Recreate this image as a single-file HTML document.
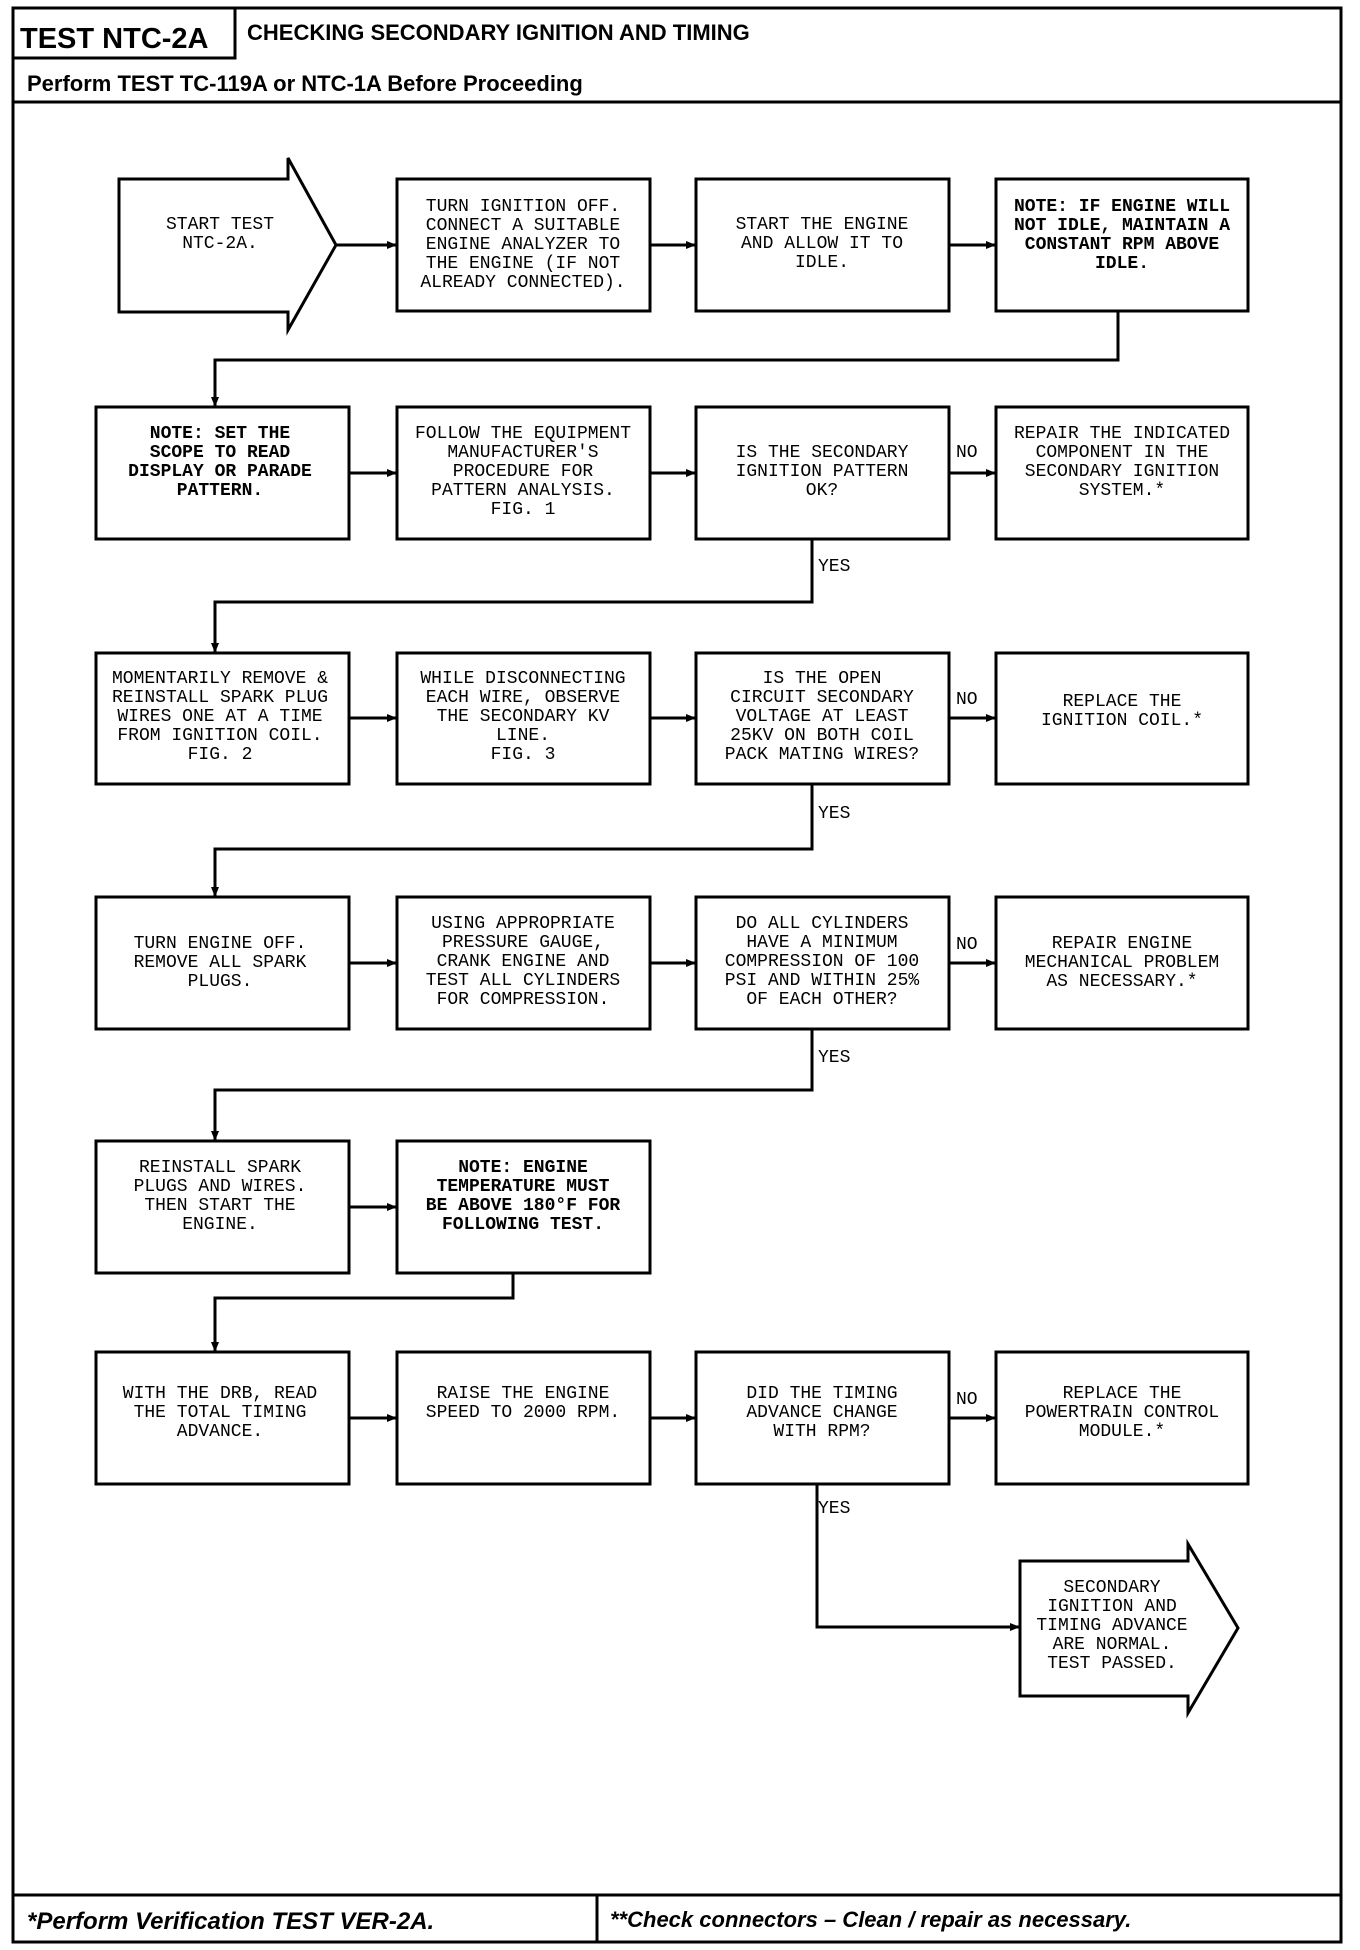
<!DOCTYPE html>
<html><head><meta charset="utf-8"><style>
html,body{margin:0;padding:0;background:#fff;}
svg{display:block;}
.m{font-family:"Liberation Mono","DejaVu Sans Mono",monospace;font-size:18px;fill:#000;}
.h{font-family:"Liberation Sans",sans-serif;font-weight:bold;fill:#000;}
</style></head><body>
<svg width="1360" height="1950" viewBox="0 0 1360 1950" xmlns="http://www.w3.org/2000/svg">
<defs><marker id="a" markerWidth="10" markerHeight="10" refX="9" refY="5" orient="auto" markerUnits="userSpaceOnUse"><path d="M0,1 L10,5 L0,9 z" fill="#000"/></marker></defs>
<g fill="none" stroke="#000" stroke-width="3">
<rect x="13" y="8" width="1328" height="1934"/>
<line x1="13" y1="102" x2="1341" y2="102"/>
<rect x="13" y="8" width="222" height="50"/>
<line x1="235" y1="58" x2="1341" y2="58" stroke-width="0"/>
<line x1="13" y1="1895" x2="1341" y2="1895"/>
<line x1="597" y1="1895" x2="597" y2="1942"/>
<!-- start arrow -->
<path d="M119,179 H288 V158 L336,245 L288,330 V312 H119 Z"/>
<!-- row1 -->
<rect x="397" y="179" width="253" height="132"/>
<rect x="696" y="179" width="253" height="132"/>
<rect x="996" y="179" width="252" height="132"/>
<!-- rows 2-6 -->
<rect x="96" y="407" width="253" height="132"/><rect x="397" y="407" width="253" height="132"/><rect x="696" y="407" width="253" height="132"/><rect x="996" y="407" width="252" height="132"/>
<rect x="96" y="653" width="253" height="131"/><rect x="397" y="653" width="253" height="131"/><rect x="696" y="653" width="253" height="131"/><rect x="996" y="653" width="252" height="131"/>
<rect x="96" y="897" width="253" height="132"/><rect x="397" y="897" width="253" height="132"/><rect x="696" y="897" width="253" height="132"/><rect x="996" y="897" width="252" height="132"/>
<rect x="96" y="1141" width="253" height="132"/><rect x="397" y="1141" width="253" height="132"/>
<rect x="96" y="1352" width="253" height="132"/><rect x="397" y="1352" width="253" height="132"/><rect x="696" y="1352" width="253" height="132"/><rect x="996" y="1352" width="252" height="132"/>
<!-- end arrow -->
<path d="M1020,1561 H1188 V1544 L1238,1628 L1188,1713 V1696 H1020 Z"/>
</g>
<g stroke="#000" stroke-width="3" fill="none" marker-end="url(#a)">
<line x1="336" y1="245" x2="396" y2="245"/>
<line x1="650" y1="245" x2="695" y2="245"/>
<line x1="949" y1="245" x2="995" y2="245"/>
<polyline points="1118,311 1118,360 215,360 215,406"/>
<line x1="349" y1="473" x2="396" y2="473"/><line x1="650" y1="473" x2="695" y2="473"/><line x1="949" y1="473" x2="995" y2="473"/>
<polyline points="812,539 812,602 215,602 215,652"/>
<line x1="349" y1="718" x2="396" y2="718"/><line x1="650" y1="718" x2="695" y2="718"/><line x1="949" y1="718" x2="995" y2="718"/>
<polyline points="812,784 812,849 215,849 215,896"/>
<line x1="349" y1="963" x2="396" y2="963"/><line x1="650" y1="963" x2="695" y2="963"/><line x1="949" y1="963" x2="995" y2="963"/>
<polyline points="812,1029 812,1090 215,1090 215,1140"/>
<line x1="349" y1="1207" x2="396" y2="1207"/>
<polyline points="513,1273 513,1298 215,1298 215,1351"/>
<line x1="349" y1="1418" x2="396" y2="1418"/><line x1="650" y1="1418" x2="695" y2="1418"/><line x1="949" y1="1418" x2="995" y2="1418"/>
<polyline points="817,1484 817,1627 1019,1627"/>
</g>
<text class="h" x="20" y="48" font-size="29">TEST NTC-2A</text>
<text class="h" x="247" y="40" font-size="22">CHECKING SECONDARY IGNITION AND TIMING</text>
<text class="h" x="27" y="91" font-size="22">Perform TEST TC-119A or NTC-1A Before Proceeding</text>
<text class="h" x="27" y="1929" font-size="24" font-style="italic">*Perform Verification TEST VER-2A.</text>
<text class="h" x="610" y="1927" font-size="22" font-style="italic">**Check connectors – Clean / repair as necessary.</text>
<g class="m" text-anchor="middle">
<text x="220" y="229"><tspan x="220">START TEST</tspan><tspan x="220" dy="19">NTC-2A.</tspan></text>
<text x="523" y="211"><tspan x="523">TURN IGNITION OFF.</tspan><tspan x="523" dy="19">CONNECT A SUITABLE</tspan><tspan x="523" dy="19">ENGINE ANALYZER TO</tspan><tspan x="523" dy="19">THE ENGINE (IF NOT</tspan><tspan x="523" dy="19">ALREADY CONNECTED).</tspan></text>
<text x="822" y="229"><tspan x="822">START THE ENGINE</tspan><tspan x="822" dy="19">AND ALLOW IT TO</tspan><tspan x="822" dy="19">IDLE.</tspan></text>
<text x="1122" y="211" font-weight="bold"><tspan x="1122">NOTE: IF ENGINE WILL</tspan><tspan x="1122" dy="19">NOT IDLE, MAINTAIN A</tspan><tspan x="1122" dy="19">CONSTANT RPM ABOVE</tspan><tspan x="1122" dy="19">IDLE.</tspan></text>

<text x="220" y="438" font-weight="bold"><tspan x="220">NOTE: SET THE</tspan><tspan x="220" dy="19">SCOPE TO READ</tspan><tspan x="220" dy="19">DISPLAY OR PARADE</tspan><tspan x="220" dy="19">PATTERN.</tspan></text>
<text x="523" y="438"><tspan x="523">FOLLOW THE EQUIPMENT</tspan><tspan x="523" dy="19">MANUFACTURER'S</tspan><tspan x="523" dy="19">PROCEDURE FOR</tspan><tspan x="523" dy="19">PATTERN ANALYSIS.</tspan><tspan x="523" dy="19">FIG. 1</tspan></text>
<text x="822" y="457"><tspan x="822">IS THE SECONDARY</tspan><tspan x="822" dy="19">IGNITION PATTERN</tspan><tspan x="822" dy="19">OK?</tspan></text>
<text x="1122" y="438"><tspan x="1122">REPAIR THE INDICATED</tspan><tspan x="1122" dy="19">COMPONENT IN THE</tspan><tspan x="1122" dy="19">SECONDARY IGNITION</tspan><tspan x="1122" dy="19">SYSTEM.*</tspan></text>

<text x="220" y="683"><tspan x="220">MOMENTARILY REMOVE &amp;</tspan><tspan x="220" dy="19">REINSTALL SPARK PLUG</tspan><tspan x="220" dy="19">WIRES ONE AT A TIME</tspan><tspan x="220" dy="19">FROM IGNITION COIL.</tspan><tspan x="220" dy="19">FIG. 2</tspan></text>
<text x="523" y="683"><tspan x="523">WHILE DISCONNECTING</tspan><tspan x="523" dy="19">EACH WIRE, OBSERVE</tspan><tspan x="523" dy="19">THE SECONDARY KV</tspan><tspan x="523" dy="19">LINE.</tspan><tspan x="523" dy="19">FIG. 3</tspan></text>
<text x="822" y="683"><tspan x="822">IS THE OPEN</tspan><tspan x="822" dy="19">CIRCUIT SECONDARY</tspan><tspan x="822" dy="19">VOLTAGE AT LEAST</tspan><tspan x="822" dy="19">25KV ON BOTH COIL</tspan><tspan x="822" dy="19">PACK MATING WIRES?</tspan></text>
<text x="1122" y="706"><tspan x="1122">REPLACE THE</tspan><tspan x="1122" dy="19">IGNITION COIL.*</tspan></text>

<text x="220" y="948"><tspan x="220">TURN ENGINE OFF.</tspan><tspan x="220" dy="19">REMOVE ALL SPARK</tspan><tspan x="220" dy="19">PLUGS.</tspan></text>
<text x="523" y="928"><tspan x="523">USING APPROPRIATE</tspan><tspan x="523" dy="19">PRESSURE GAUGE,</tspan><tspan x="523" dy="19">CRANK ENGINE AND</tspan><tspan x="523" dy="19">TEST ALL CYLINDERS</tspan><tspan x="523" dy="19">FOR COMPRESSION.</tspan></text>
<text x="822" y="928"><tspan x="822">DO ALL CYLINDERS</tspan><tspan x="822" dy="19">HAVE A MINIMUM</tspan><tspan x="822" dy="19">COMPRESSION OF 100</tspan><tspan x="822" dy="19">PSI AND WITHIN 25%</tspan><tspan x="822" dy="19">OF EACH OTHER?</tspan></text>
<text x="1122" y="948"><tspan x="1122">REPAIR ENGINE</tspan><tspan x="1122" dy="19">MECHANICAL PROBLEM</tspan><tspan x="1122" dy="19">AS NECESSARY.*</tspan></text>

<text x="220" y="1172"><tspan x="220">REINSTALL SPARK</tspan><tspan x="220" dy="19">PLUGS AND WIRES.</tspan><tspan x="220" dy="19">THEN START THE</tspan><tspan x="220" dy="19">ENGINE.</tspan></text>
<text x="523" y="1172" font-weight="bold"><tspan x="523">NOTE: ENGINE</tspan><tspan x="523" dy="19">TEMPERATURE MUST</tspan><tspan x="523" dy="19">BE ABOVE 180°F FOR</tspan><tspan x="523" dy="19">FOLLOWING TEST.</tspan></text>

<text x="220" y="1398"><tspan x="220">WITH THE DRB, READ</tspan><tspan x="220" dy="19">THE TOTAL TIMING</tspan><tspan x="220" dy="19">ADVANCE.</tspan></text>
<text x="523" y="1398"><tspan x="523">RAISE THE ENGINE</tspan><tspan x="523" dy="19">SPEED TO 2000 RPM.</tspan></text>
<text x="822" y="1398"><tspan x="822">DID THE TIMING</tspan><tspan x="822" dy="19">ADVANCE CHANGE</tspan><tspan x="822" dy="19">WITH RPM?</tspan></text>
<text x="1122" y="1398"><tspan x="1122">REPLACE THE</tspan><tspan x="1122" dy="19">POWERTRAIN CONTROL</tspan><tspan x="1122" dy="19">MODULE.*</tspan></text>

<text x="1112" y="1592"><tspan x="1112">SECONDARY</tspan><tspan x="1112" dy="19">IGNITION AND</tspan><tspan x="1112" dy="19">TIMING ADVANCE</tspan><tspan x="1112" dy="19">ARE NORMAL.</tspan><tspan x="1112" dy="19">TEST PASSED.</tspan></text>
</g>
<g class="m" font-size="17">
<text x="956" y="457">NO</text><text x="956" y="704">NO</text><text x="956" y="949">NO</text><text x="956" y="1404">NO</text>
<text x="818" y="571">YES</text><text x="818" y="818">YES</text><text x="818" y="1062">YES</text><text x="818" y="1513">YES</text>
</g>
</svg>
</body></html>
